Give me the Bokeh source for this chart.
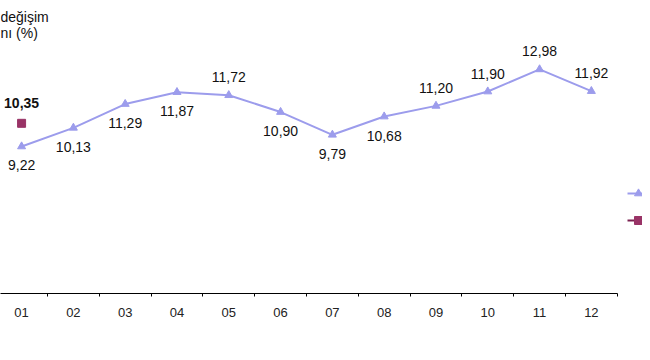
from bokeh.plotting import figure
from bokeh.models import (ColumnDataSource, Range1d, LinearAxis, FixedTicker,
                          Label, Legend, LegendItem)
from bokeh.core.properties import value
from bokeh.embed import file_html
from bokeh.resources import INLINE

# ---- data ----
months = ["01", "02", "03", "04", "05", "06", "07", "08", "09", "10", "11", "12"]
series_prev = [9.22, 10.13, 11.29, 11.87, 11.72, 10.90, 9.79, 10.68, 11.20, 11.90, 12.98, 11.92]
series_curr_months = ["01"]
series_curr = [10.35]
label_side = ["below", "below", "below", "below", "above", "below",
              "below", "below", "above", "above", "above", "above"]

LINE_C = "#9C9CEC"
SQ_C = "#993366"
FONT = "Liberation Sans"

xs = [i + 1 for i in range(len(months))]
fmt = lambda v: f"{v:.2f}".replace(".", ",")

src = ColumnDataSource(dict(
    x=xs, y=series_prev,
    lbl=[fmt(v) for v in series_prev],
    off=[19 if s == "below" else -18 for s in label_side],
))
src2 = ColumnDataSource(dict(
    x=[months.index(m) + 1 for m in series_curr_months], y=series_curr,
    lbl=[fmt(v) for v in series_curr],
))

p = figure(width=642, height=352, output_backend="svg", toolbar_location=None,
           x_range=Range1d(0.593, 12.987), y_range=Range1d(2.05, 16.34),
           x_axis_location=None, y_axis_location=None,
           min_border_left=0, min_border_right=0, min_border_top=0,
           min_border_bottom=59)
p.outline_line_color = None
p.grid.visible = False
p.background_fill_color = "white"

ax = LinearAxis()
ax.ticker = FixedTicker(ticks=xs, minor_ticks=[x + 0.5 for x in xs])
ax.major_label_overrides = {x: m for x, m in zip(xs, months)}
ax.bounds = (0.5, 12.5)
ax.major_tick_line_color = None
ax.major_tick_out = 0
ax.major_tick_in = 0
ax.minor_tick_line_color = "#000000"
ax.minor_tick_out = 3
ax.minor_tick_in = 0
ax.axis_line_color = "#000000"
ax.axis_line_width = 1
ax.major_label_standoff = 11
ax.major_label_text_font = FONT
ax.major_label_text_font_size = "13px"
ax.major_label_text_color = "#222222"
p.add_layout(ax, "below")

r1 = p.line("x", "y", source=src, line_color=LINE_C, line_width=2)
r1m = p.scatter("x", "y", source=src, marker="triangle", size=8,
                fill_color=LINE_C, line_color=LINE_C)
r2_line = p.line("x", "y", source=src2, line_color="#7A2150", line_width=2)
r2 = p.scatter("x", "y", source=src2, marker="square", size=8,
               fill_color=SQ_C, line_color=SQ_C)

p.text("x", "y", text="lbl", source=src, y_offset="off",
       text_align="center", text_baseline="middle",
       text_font=value(FONT), text_font_size="14px", text_color="#111111")
p.text("x", "y", text="lbl", source=src2, y_offset=-20,
       text_align="center", text_baseline="middle",
       text_font=value(FONT), text_font_size="14px", text_font_style="bold",
       text_color="#111111")

p.add_layout(Label(x=0, y=285, x_units="screen", y_units="screen", text="değişim",
                   text_font=FONT, text_font_size="14px", text_color="#111111",
                   text_baseline="top", text_align="left"))
p.add_layout(Label(x=0, y=269, x_units="screen", y_units="screen", text="nı (%)",
                   text_font=FONT, text_font_size="14px", text_color="#111111",
                   text_baseline="top", text_align="left"))

legend = Legend(items=[LegendItem(label="", renderers=[r1, r1m]),
                       LegendItem(label="", renderers=[r2_line, r2])],
                location=(627, 63), orientation="vertical",
                padding=0, margin=0, spacing=7, glyph_width=22, glyph_height=20,
                label_width=0, label_height=20, label_standoff=0,
                border_line_color=None, background_fill_alpha=0)
p.add_layout(legend, "center")

open("out.html", "w").write(file_html(p, INLINE))
